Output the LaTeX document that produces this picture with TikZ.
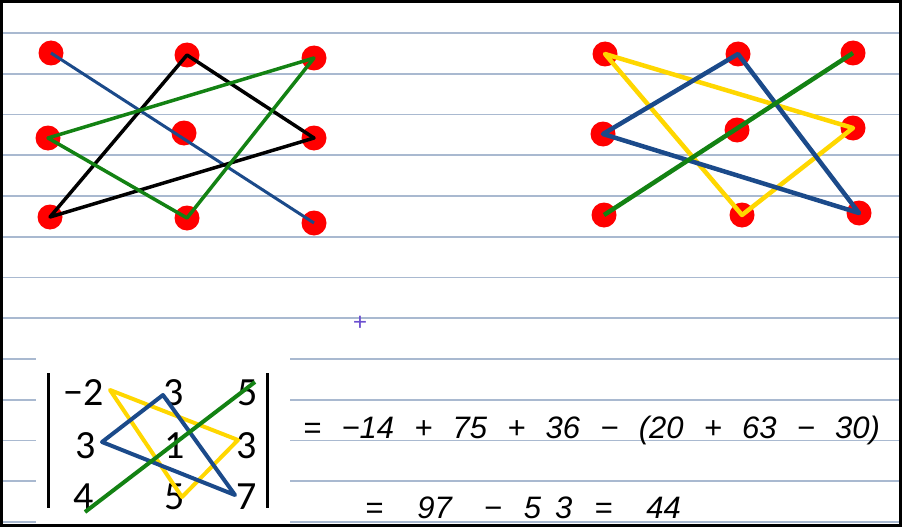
\documentclass[tikz,border=0pt]{standalone}
\usepackage{fontspec}
\setmainfont{Carlito}
\newfontfamily\handfont[WordSpace=2.35]{Liberation Sans}
\definecolor{rulecol}{HTML}{A9B9D0}
\definecolor{dotred}{HTML}{FF0000}
\definecolor{lineblue}{HTML}{1B4A8A}
\definecolor{linegreen}{HTML}{138213}
\definecolor{lineyellow}{HTML}{FFD700}
\definecolor{cursorcol}{HTML}{6B4FD0}
\tikzset{
  dot/.style={circle,fill=dotred,minimum size=25pt,inner sep=0pt},
  entry/.style={font=\fontsize{40}{40}\selectfont,inner sep=0pt},
  hand/.style={font=\handfont\itshape\fontsize{31}{31}\selectfont,inner sep=0pt,anchor=west},
}
\begin{document}
\begin{tikzpicture}[x=1pt,y=-1pt]
  \useasboundingbox (0,0) rectangle (902,527);
  \fill[white] (0,0) rectangle (902,527);
  % ruled paper
  \foreach \y in {33,73.75,...,524}
    \draw[rulecol,line width=1.8pt] (0,\y) -- (902,\y);
  \fill[white] (36,345) rectangle (290,524);
  % left grid
  \draw
    (51,53) node[dot] (p1){}
    (187,55) node[dot] (p2){}
    (314,58) node[dot] (p3){}
    (48,138) node[dot] (p4){}
    (184,133) node[dot] (p5){}
    (314,138) node[dot] (p6){}
    (50,217) node[dot] (p7){}
    (187,218) node[dot] (p8){}
    (314,223) node[dot] (p9){};
  % right grid
  \draw
    (605,54) node[dot] (q1){}
    (738,54) node[dot] (q2){}
    (853,53) node[dot] (q3){}
    (603,134) node[dot] (q4){}
    (737,130) node[dot] (q5){}
    (853,128) node[dot] (q6){}
    (604,215) node[dot] (q7){}
    (742,215) node[dot] (q8){}
    (859,213) node[dot] (q9){};
  \begin{scope}[line width=3.5pt,line join=round]
    \draw[lineblue,line width=3pt] (p1.center) to (p9.center);
    \draw (p2.center) -- (p6.center) -- (p7.center) -- cycle;
    \draw[linegreen] (p4.center) -- (p3.center) -- (p8.center) -- cycle;
    \draw[lineyellow,line width=4.5pt] (q1.center) -- (q6.center) -- (q8.center) -- cycle;
    \draw[lineblue,line width=4.5pt] (q4.center) -- (q2.center) -- (q9.center) -- cycle;
    \draw[linegreen,line width=4.5pt] (q7.center) to (q3.center);
  \end{scope}
  % determinant
  \draw
    (84,393) node[entry] (m11){−2}
    (174,393) node[entry] (m12){3}
    (248,393) node[entry] (m13){5}
    (86,446) node[entry] (m21){3}
    (175,446) node[entry] (m22){1}
    (247,446) node[entry] (m23){3}
    (84,497) node[entry] (m31){4}
    (175,497) node[entry] (m32){5}
    (247,497) node[entry] (m33){7};
  \draw[line width=3pt] (48,373) -- (48,508) (267,373) -- (267,508);
  \coordinate (y1) at (110,390);
  \coordinate (y2) at (238,440);
  \coordinate (y3) at (182,497);
  \coordinate (b1) at (102,442);
  \coordinate (b2) at (163,395);
  \coordinate (b3) at (235,495);
  \coordinate (g1) at (85,512);
  \coordinate (g2) at (255,382);
  \begin{scope}[line width=4pt,line join=round]
    \draw[lineyellow] (y1) -- (y2) -- (y3) -- cycle;
    \draw[lineblue] (b1) -- (b2) -- (b3) -- cycle;
    \draw[linegreen] (g1) to (g2);
  \end{scope}
  % working
  \node[hand] (eq1) at (303,430) {= −14 + 75 + 36 − (20 + 63 − 30)};
  \node[hand] (eq2) at (365,508) {=\hspace{34pt}97\hspace{32pt}−\hspace{22pt}5\hspace{14pt}3\hspace{22pt}=\hspace{34pt}44};
  \node[text=cursorcol,font=\fontsize{26}{26}\selectfont] (cur) at (360,323) {+};
  \draw[line width=3pt] (1.5,1.5) rectangle (900,525.5);
\end{tikzpicture}
\end{document}
